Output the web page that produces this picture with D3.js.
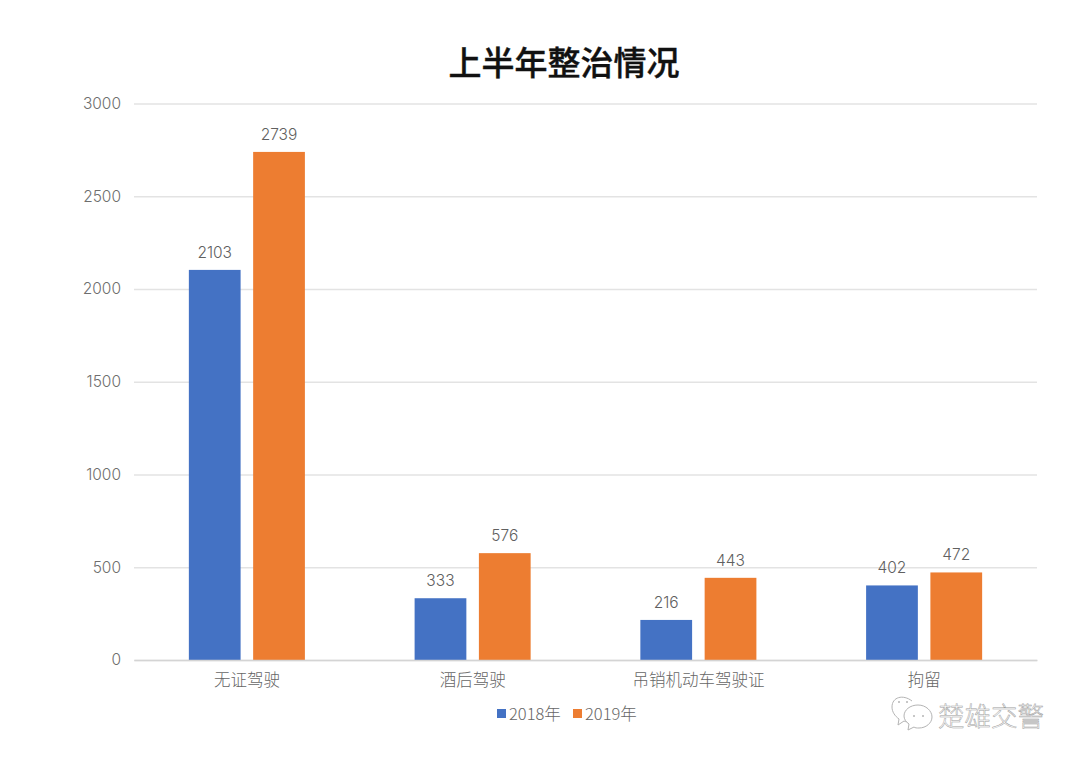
<!DOCTYPE html>
<html>
<head>
<meta charset="utf-8">
<script src="https://cdn.jsdelivr.net/npm/d3@7"></script>
<style>
  html, body { margin: 0; padding: 0; background: #fff; }
  text { font-family: "Noto Sans CJK SC", "Noto Sans", sans-serif; }
  .num { font-family: Inter, "Noto Sans", sans-serif; font-weight: 300; }
</style>
</head>
<body>
<div id="chart"></div>
<script>
const categories = ['无证驾驶', '酒后驾驶', '吊销机动车驾驶证', '拘留'];
const seriesNames = ['2018年', '2019年'];
const values2018 = [2103, 333, 216, 402];
const values2019 = [2739, 576, 443, 472];
const yTicks = [0, 500, 1000, 1500, 2000, 2500, 3000];
const colors = ['#4472c4', '#ed7d31'];

const width = 1080;
const height = 764;
const margin = { top: 103.5, left: 134, right: 43, bottom: 104 };

const svg = d3.select('#chart').append('svg')
    .attr('width', width)
    .attr('height', height)
    .style('display', 'block');

const x0 = d3.scaleBand()
    .domain(categories)
    .range([margin.left, width - margin.right])
    .paddingInner(0.486)
    .paddingOuter(0.243);

const x1 = d3.scaleBand()
    .domain(seriesNames)
    .range([0, x0.bandwidth()])
    .paddingInner(0.195);

const y = d3.scaleLinear()
    .domain([0, 3000])
    .range([height - margin.bottom, margin.top]);

// title
svg.append('text')
    .attr('x', 564)
    .attr('y', 74.5)
    .attr('text-anchor', 'middle')
    .attr('font-size', 33)
    .attr('font-weight', 500)
    .attr('fill', '#111')
    .attr('stroke', '#111')
    .attr('stroke-width', 0.4)
    .text('上半年整治情况');

// gridlines + y labels
const yAxis = svg.append('g')
    .attr('transform', `translate(${margin.left},0)`)
    .call(d3.axisLeft(y)
        .tickValues(yTicks)
        .tickFormat(d3.format('d'))
        .tickSize(-(width - margin.left - margin.right))
        .tickPadding(13));
yAxis.select('.domain').remove();
yAxis.selectAll('line').attr('stroke', '#e3e3e3').attr('stroke-width', 1.5);
yAxis.selectAll('text')
    .attr('class', 'num')
    .attr('font-size', 15.5)
    .attr('fill', '#6e6e6e');

// bars
const groups = svg.append('g').selectAll('g')
    .data(categories)
    .join('g')
    .attr('transform', d => `translate(${x0(d)},0)`);

const rows = (d, i) => [
    { name: seriesNames[0], value: values2018[i], color: colors[0] },
    { name: seriesNames[1], value: values2019[i], color: colors[1] }
];

groups.selectAll('rect')
    .data(rows)
    .join('rect')
    .attr('x', d => x1(d.name))
    .attr('y', d => y(d.value))
    .attr('width', x1.bandwidth())
    .attr('height', d => y(0) - y(d.value))
    .attr('fill', d => d.color);

groups.selectAll('text')
    .data(rows)
    .join('text')
    .attr('class', 'num')
    .attr('x', d => x1(d.name) + x1.bandwidth() / 2)
    .attr('y', d => y(d.value) - 12)
    .attr('text-anchor', 'middle')
    .attr('font-size', 15.5)
    .attr('fill', '#606060')
    .text(d => d.value);

// category labels
const xAxis = svg.append('g')
    .attr('transform', `translate(0,${height - margin.bottom})`)
    .call(d3.axisBottom(x0).tickSize(0).tickPadding(14));
xAxis.select('.domain').attr('stroke', '#d4d4d4').attr('stroke-width', 1.5);
xAxis.selectAll('text')
    .attr('font-size', 16.5)
    .attr('font-weight', 300)
    .attr('fill', '#666');

// legend
const legendX = d3.scaleOrdinal().domain(seriesNames).range([497, 573]);
const legend = svg.append('g').selectAll('g')
    .data(seriesNames)
    .join('g')
    .attr('transform', d => `translate(${legendX(d)},709)`);
legend.append('rect')
    .attr('width', 9)
    .attr('height', 9)
    .attr('fill', (d, i) => colors[i]);
legend.append('text')
    .attr('x', 12)
    .attr('y', 11)
    .attr('font-size', 16.5)
    .attr('font-weight', 300)
    .attr('fill', '#666')
    .text(d => d);

// watermark
const mark = svg.append('g').attr('fill', '#fff').attr('stroke', '#b4b4b4').attr('stroke-width', 1);
mark.append('path')
    .attr('d', 'M912 701c-9-7-20-4-20 6 0 5 3 9 7 12l-1 6 6-4c2 1 4 1 6 1');
mark.append('path')
    .attr('d', 'M918 705c8 0 14 6 14 12s-6 11-13 11c-2 0-4 0-5-1l-6 3 1-6c-3-2-5-5-5-8 0-6 6-11 14-11z');
mark.selectAll('circle')
    .data([[899, 702], [907, 702], [914, 716], [923, 716]])
    .join('circle')
    .attr('cx', d => d[0])
    .attr('cy', d => d[1])
    .attr('r', 1)
    .attr('fill', '#b4b4b4')
    .attr('stroke', 'none');
svg.append('text')
    .attr('x', 938)
    .attr('y', 726)
    .attr('font-size', 26.5)
    .attr('font-weight', 300)
    .attr('fill', '#fff')
    .attr('stroke', '#a0a0a0')
    .attr('stroke-width', 0.5)
    .text('楚雄交警');
</script>
</body>
</html>
